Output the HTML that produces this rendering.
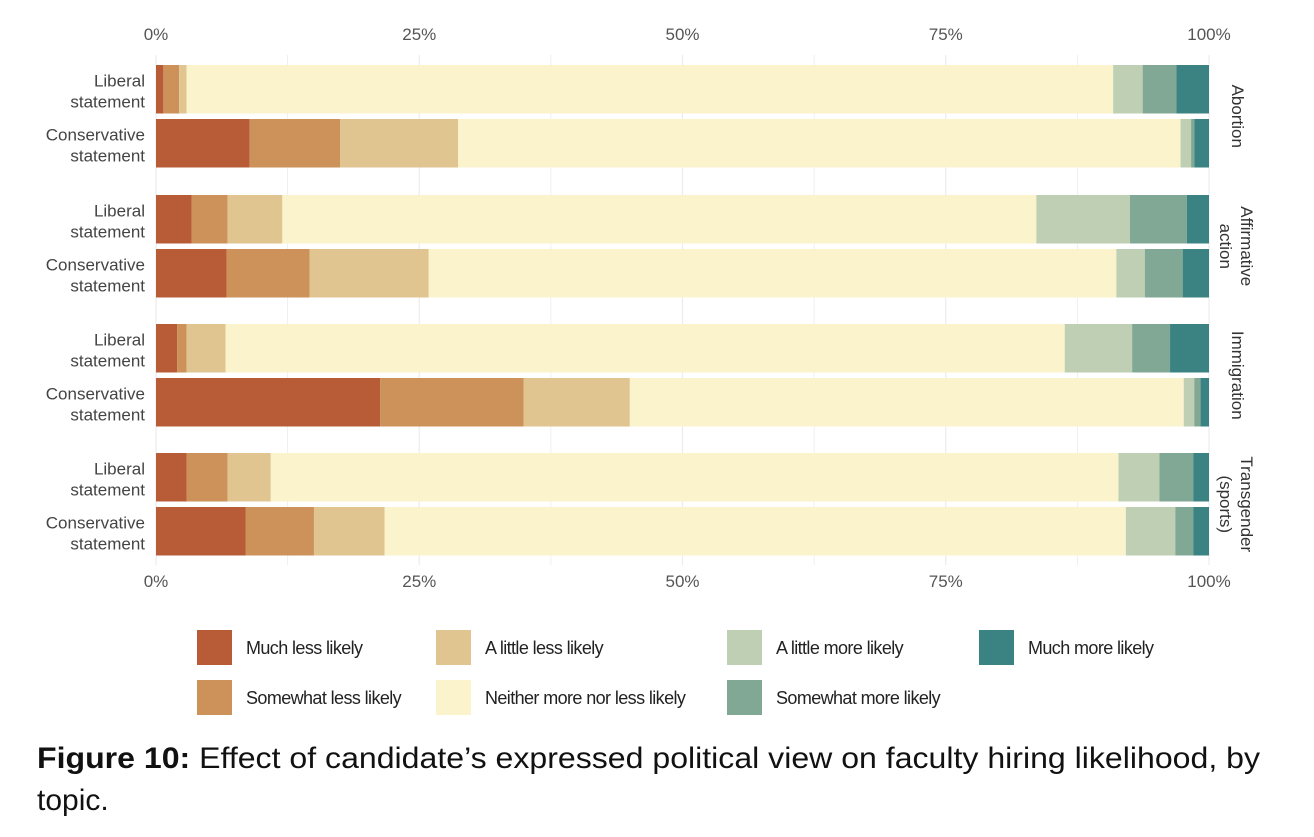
<!DOCTYPE html>
<html><head><meta charset="utf-8"><style>
body{margin:0;background:#fff;width:1314px;height:837px;overflow:hidden;font-family:"Liberation Sans",sans-serif}
svg{display:block}
</style></head><body>
<svg id="chart" width="1314" height="837" viewBox="0 0 1314 837" xmlns="http://www.w3.org/2000/svg"></svg>
<script>
const topics = ["Abortion", "Affirmative action", "Immigration", "Transgender (sports)"];
const statements = ["Liberal statement", "Conservative statement"];
const categories = ["Much less likely","Somewhat less likely","A little less likely","Neither more nor less likely","A little more likely","Somewhat more likely","Much more likely"];
const colors = ["#b85c38","#cd925a","#e1c591","#fbf3cc","#bfcfb4","#80a895","#3a8382"];
const abortionLiberal = [0.7,1.5,0.7,88.0,2.8,3.2,3.1];
const abortionConservative = [8.9,8.6,11.2,68.6,1.0,0.3,1.4];
const affirmativeLiberal = [3.4,3.4,5.2,71.6,8.9,5.4,2.1];
const affirmativeConservative = [6.7,7.9,11.3,65.3,2.7,3.6,2.5];
const immigrationLiberal = [2.0,0.9,3.7,79.7,6.4,3.6,3.7];
const immigrationConservative = [21.3,13.6,10.1,52.6,1.0,0.6,0.8];
const transLiberal = [2.9,3.9,4.1,80.5,3.9,3.2,1.5];
const transConservative = [8.5,6.5,6.7,70.4,4.7,1.7,1.5];
const tickValues = [0,25,50,75,100];
const tickLabels = ["0%","25%","50%","75%","100%"];
const series = [[abortionLiberal,abortionConservative],[affirmativeLiberal,affirmativeConservative],[immigrationLiberal,immigrationConservative],[transLiberal,transConservative]];

const NS="http://www.w3.org/2000/svg";
const svg=document.getElementById('chart');
const X0=156,X1=1209;
const x=v=>X0+(X1-X0)*v/100;
function mk(tag,attrs,parent){const e=document.createElementNS(NS,tag);for(const k in attrs)e.setAttribute(k,attrs[k]);(parent||svg).appendChild(e);return e;}
const facetTop=[65,195,324,453];
const barH=48.5, barGap=5.5;

// gridlines
for(let v=0;v<=100;v+=12.5){
  const g=mk('line',{x1:x(v),x2:x(v),y1:55,y2:565,stroke:'#ececec','stroke-width':v%25===0?1.2:0.8});
  
  
}
// ticks
tickValues.forEach((v,i)=>{
  [34,581].forEach(yy=>{
    const t=mk('text',{x:x(v),y:yy+6,'text-anchor':'middle','font-size':17,fill:'#555'});
    t.textContent=tickLabels[i];
    
    
  });
});
// bars
series.forEach((pair,ti)=>{
  pair.forEach((vals,si)=>{
    const y=facetTop[ti]+si*(barH+barGap);
    let cum=0;
    vals.forEach((v,ci)=>{
      const r=mk('rect',{x:x(cum),y:y,width:Math.max(0,x(cum+v)-x(cum)),height:barH,fill:colors[ci]});
      
      
      cum+=v;
    });
    const words=statements[si].split(' ');
    const lt=mk('text',{x:145,y:y+barH/2-3,'text-anchor':'end','font-size':17,fill:'#444'});
    
    
    const a=mk('tspan',{x:145},lt);a.textContent=words[0];
    const b=mk('tspan',{x:145,dy:21},lt);b.textContent=words[1];
  });
  const cy=facetTop[ti]+barH+barGap/2;
  const st=mk('text',{transform:`translate(1238,${cy}) rotate(90)`,'text-anchor':'middle','font-size':17,fill:'#333'});
  
  
  const parts=topics[ti]==="Affirmative action"?["Affirmative","action"]:topics[ti]==="Transgender (sports)"?["Transgender","(sports)"]:[topics[ti]];
  parts.forEach((p,pi)=>{
    const dy=parts.length===1?6:(pi===0?-3:19);
    const ts=mk('tspan',{x:0,dy:pi===0?dy:21},st);ts.textContent=p;
  });
});
// legend
const legX=[197,436,727,979], legY=[630,680];
const legOrder=[[0,0],[1,0],[2,1],[3,1],[4,2],[5,2],[6,3]];
legOrder.forEach(([ci,col],i)=>{
  const row=(ci===0||ci===2||ci===4||ci===6)?0:1;
  const r=mk('rect',{x:legX[col],y:legY[row],width:35,height:35,fill:colors[ci]});
  
  
  const t=mk('text',{x:legX[col]+49,y:legY[row]+24,'font-size':18,fill:'#222','letter-spacing':'-0.6'});
  t.textContent=categories[ci];
  
  
});
// caption
const cap=mk('text',{x:37,y:768,'font-size':30,fill:'#111',textLength:1223,lengthAdjust:'spacingAndGlyphs'});


const cb=mk('tspan',{'font-weight':'bold'},cap);cb.textContent="Figure 10:";
const cr=mk('tspan',{},cap);cr.textContent=" Effect of candidate\u2019s expressed political view on faculty hiring likelihood, by";
const cap2=mk('text',{x:37,y:810,'font-size':30,fill:'#111'});
cap2.textContent="topic.";


</script>
</body></html>
